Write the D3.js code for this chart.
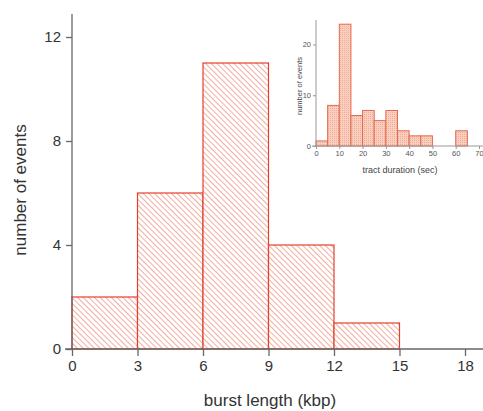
<!DOCTYPE html>
<html>
<head>
<meta charset="utf-8">
<script src="https://cdn.jsdelivr.net/npm/d3@7"></script>
<style>
  body { margin: 0; background: #fff; }
  text { font-family: "Liberation Sans", Arial, sans-serif; }
</style>
</head>
<body>
<svg id="chart" width="483" height="411"></svg>
<script>
// main histogram: burst length (kbp)
const burstBins = [0, 3, 6, 9, 12, 15];
const burstCounts = [2, 6, 11, 4, 1];
const burstTicks = [0, 3, 6, 9, 12, 15, 18];
const countTicks = [0, 4, 8, 12];

// inset histogram: tract duration (sec)
const tractBins = [0, 5, 10, 15, 20, 25, 30, 35, 40, 45, 60];
const tractCounts = [1, 8, 24, 6, 7, 5, 7, 3, 2, 2, 3];
const tractTicks = [0, 10, 20, 30, 40, 50, 60, 70];
const insetCountTicks = [0, 10, 20];

const svg = d3.select("#chart");
const red = "#e2412b";

const defs = svg.append("defs");
const hatch = defs.append("pattern")
    .attr("id", "hatch")
    .attr("patternUnits", "userSpaceOnUse")
    .attr("width", 4).attr("height", 4)
    .attr("patternTransform", "rotate(-45)");
hatch.append("rect").attr("width", 4).attr("height", 4).attr("fill", "#fff");
hatch.append("line")
    .attr("x1", 0).attr("y1", 0).attr("x2", 0).attr("y2", 4)
    .attr("stroke", "#ec7f6c").attr("stroke-width", 1.3);

const cross = defs.append("pattern")
    .attr("id", "cross")
    .attr("patternUnits", "userSpaceOnUse")
    .attr("width", 2).attr("height", 2);
cross.append("rect").attr("width", 2).attr("height", 2).attr("fill", "#f9cfbf");
cross.append("rect").attr("width", 1).attr("height", 1).attr("fill", "#f2ab95");

// ---- main chart
const x = d3.scaleLinear().domain([0, 18]).range([72, 465]);
const y = d3.scaleLinear().domain([0, 12]).range([349, 37]);

svg.append("g").selectAll("rect")
    .data(burstCounts)
  .enter().append("rect")
    .attr("x", (d, i) => x(burstBins[i]))
    .attr("width", (d, i) => x(burstBins[i + 1]) - x(burstBins[i]))
    .attr("y", d => y(d))
    .attr("height", d => y(0) - y(d))
    .attr("fill", "url(#hatch)")
    .attr("stroke", red)
    .attr("stroke-width", 1.2);

const xAxis = svg.append("g")
    .attr("transform", `translate(0,${y(0)})`)
    .call(d3.axisBottom(x).tickValues(burstTicks).tickSize(7).tickPadding(4));
xAxis.select(".domain").attr("d", `M65,0H483`);
const yAxis = svg.append("g")
    .attr("transform", `translate(${x(0)},0)`)
    .call(d3.axisLeft(y).tickValues(countTicks).tickSize(6).tickPadding(5));
yAxis.select(".domain").attr("d", `M0,14V${y(0)}`);
[xAxis, yAxis].forEach(a => {
  a.selectAll("path, line").attr("stroke", "#666").attr("stroke-width", 1.3);
  a.selectAll("text").attr("fill", "#333").style("font-size", "15px");
});

svg.append("text")
    .attr("x", 270).attr("y", 406)
    .attr("text-anchor", "middle")
    .attr("fill", "#333")
    .style("font-size", "17px")
    .text("burst length (kbp)");
svg.append("text")
    .attr("transform", "translate(26,190) rotate(-90)")
    .attr("text-anchor", "middle")
    .attr("fill", "#333")
    .style("font-size", "17px")
    .text("number of events");

// ---- inset
const ix = d3.scaleLinear().domain([0, 70]).range([316, 479]);
const iy = d3.scaleLinear().domain([0, 20]).range([146, 44.5]);

svg.append("g").selectAll("rect")
    .data(tractCounts)
  .enter().append("rect")
    .attr("x", (d, i) => ix(tractBins[i]))
    .attr("width", (d, i) => ix(tractBins[i] + 5) - ix(tractBins[i]))
    .attr("y", d => iy(d))
    .attr("height", d => iy(0) - iy(d))
    .attr("fill", "url(#cross)")
    .attr("stroke", "#e46a50")
    .attr("stroke-width", 1);

const ixAxis = svg.append("g")
    .attr("transform", `translate(0,${iy(0)})`)
    .call(d3.axisBottom(ix).tickValues(tractTicks).tickSize(3).tickPadding(2));
ixAxis.select(".domain").attr("d", `M312,0H483`);
const iyAxis = svg.append("g")
    .attr("transform", `translate(${ix(0)},0)`)
    .call(d3.axisLeft(iy).tickValues(insetCountTicks).tickSize(3).tickPadding(2));
iyAxis.select(".domain").attr("d", `M0,20V${iy(0)}`);
[ixAxis, iyAxis].forEach(a => {
  a.selectAll("path, line").attr("stroke", "#999").attr("stroke-width", 1);
  a.selectAll("text").attr("fill", "#555").style("font-size", "7.5px");
});

svg.append("text")
    .attr("x", 400).attr("y", 173)
    .attr("text-anchor", "middle")
    .attr("fill", "#444")
    .style("font-size", "9px")
    .text("tract duration (sec)");
svg.append("text")
    .attr("transform", "translate(302,86) rotate(-90)")
    .attr("text-anchor", "middle")
    .attr("fill", "#444")
    .style("font-size", "7.5px")
    .text("number of events");
</script>
</body>
</html>
